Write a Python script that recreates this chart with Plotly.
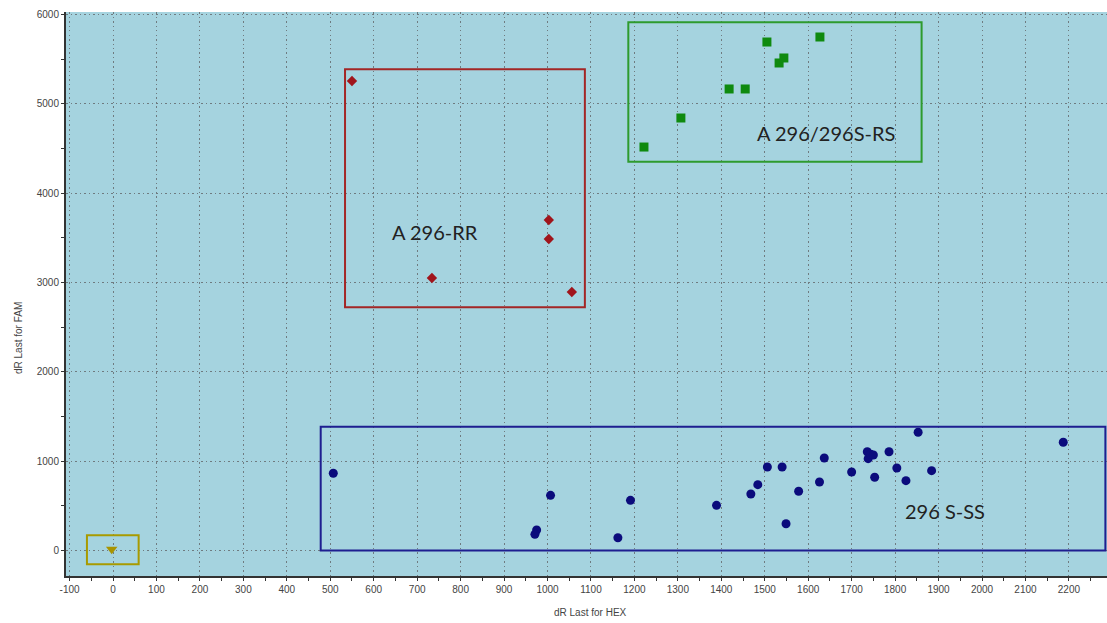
import plotly.graph_objects as go

# dR Last for HEX (x) / dR Last for FAM (y) per genotype cluster
ss_hex = [507, 1007, 975, 971, 1191, 1162, 1389, 1468, 1484, 1506, 1540, 1549, 1578,
          1626, 1637, 1700, 1736, 1738, 1744, 1750, 1753, 1786, 1804, 1825, 1853, 1884, 2187]
ss_fam = [865, 618, 230, 181, 562, 143, 506, 633, 737, 935, 935, 300, 663,
          767, 1036, 879, 1106, 1028, 1077, 1069, 820, 1106, 924, 782, 1324, 894, 1212]

rr_hex = [550, 1003, 1003, 734, 1056]
rr_fam = [5258, 3701, 3488, 3051, 2895]

rs_hex = [1222, 1307, 1418, 1455, 1505, 1533, 1544, 1627]
rs_fam = [4518, 4843, 5168, 5168, 5694, 5459, 5515, 5750]

ntc_hex = [-3]
ntc_fam = [13]

# cluster gates: [x0, x1, y0, y1] and their labels
gate_names = ["296 S-SS", "A 296-RR", "A 296/296S-RS", ""]
gate_bounds = [
    [478, 2284, 0, 1386],
    [534, 1086, 2723, 5389],
    [1186, 1861, 4354, 5915],
    [-60, 59, -155, 170],
]
gate_label_pos = [[1915, 446], [741, 3563], [1640, 4672], None]

x_ticks = list(range(-100, 2201, 100))
y_ticks = list(range(0, 6001, 1000))

C_SS, C_SS_BOX = "#0B0B7C", "#1E1E90"
C_RR, C_RR_BOX = "#A0141B", "#A32626"
C_RS, C_RS_BOX = "#0F8A0F", "#2E9B2E"
C_NTC, C_NTC_BOX = "#A89400", "#A89A00"

W, H = 1107, 623
L, R, T, B = 66, 0, 12, 47
pw, ph = W - L - R, H - T - B

fig = go.Figure()
fig.add_trace(go.Scatter(x=ss_hex, y=ss_fam, mode="markers",
                         marker=dict(symbol="circle", size=9, color=C_SS)))
fig.add_trace(go.Scatter(x=rr_hex, y=rr_fam, mode="markers",
                         marker=dict(symbol="diamond", size=8, color=C_RR)))
fig.add_trace(go.Scatter(x=rs_hex, y=rs_fam, mode="markers",
                         marker=dict(symbol="square", size=9, color=C_RS)))
fig.add_trace(go.Scatter(x=ntc_hex, y=ntc_fam, mode="markers",
                         marker=dict(symbol="triangle-down", size=10, color=C_NTC)))

for (x0, x1, y0, y1), col in zip(gate_bounds, [C_SS_BOX, C_RR_BOX, C_RS_BOX, C_NTC_BOX]):
    fig.add_shape(type="rect", xref="x", yref="y", x0=x0, x1=x1, y0=y0, y1=y1,
                  line=dict(color=col, width=2), fillcolor="rgba(0,0,0,0)", layer="above")

for name, pos in zip(gate_names, gate_label_pos):
    if pos is None:
        continue
    fig.add_annotation(x=pos[0], y=pos[1], xref="x", yref="y", text=name, showarrow=False,
                       font=dict(family="Lato", size=20, color="#222222"))

axis_font = dict(family="Liberation Sans, Arial", size=10, color="#444444")

# axis titles
fig.add_annotation(x=(590 - L) / pw, y=-(612 - T - ph) / ph, xref="paper", yref="paper",
                   text="dR Last for HEX", showarrow=False,
                   xanchor="center", yanchor="middle", font=axis_font)
fig.add_annotation(x=(18 - L) / pw, y=1 - (338 - T) / ph, xref="paper", yref="paper",
                   text="dR Last for FAM", showarrow=False, textangle=-90,
                   xanchor="center", yanchor="middle", font=axis_font)

grid_style = dict(showgrid=True, gridcolor="#6f7b80", griddash="1.5px,3px", gridwidth=1,
                  zeroline=False, showline=True, linecolor="#333333", linewidth=2,
                  ticks="outside", ticklen=3, tickcolor="#333333", tickfont=axis_font)

fig.update_layout(
    width=W, height=H,
    margin=dict(l=L, r=R, t=T, b=B, pad=0),
    paper_bgcolor="white",
    plot_bgcolor="#A5D3DF",
    showlegend=False,
    xaxis=dict(range=[-108.2, 2287.7], tickvals=x_ticks, ticktext=[str(v) for v in x_ticks],
               minor=dict(dtick=50, tick0=0, ticks="outside", ticklen=3, tickcolor="#333333",
                          showgrid=False),
               **grid_style),
    yaxis=dict(range=[-285.6, 6030], tickvals=y_ticks, ticktext=[str(v) for v in y_ticks],
               minor=dict(dtick=500, tick0=0, ticks="outside", ticklen=3, tickcolor="#333333",
                          showgrid=False),
               **grid_style),
)

fig.write_html("out.html")
